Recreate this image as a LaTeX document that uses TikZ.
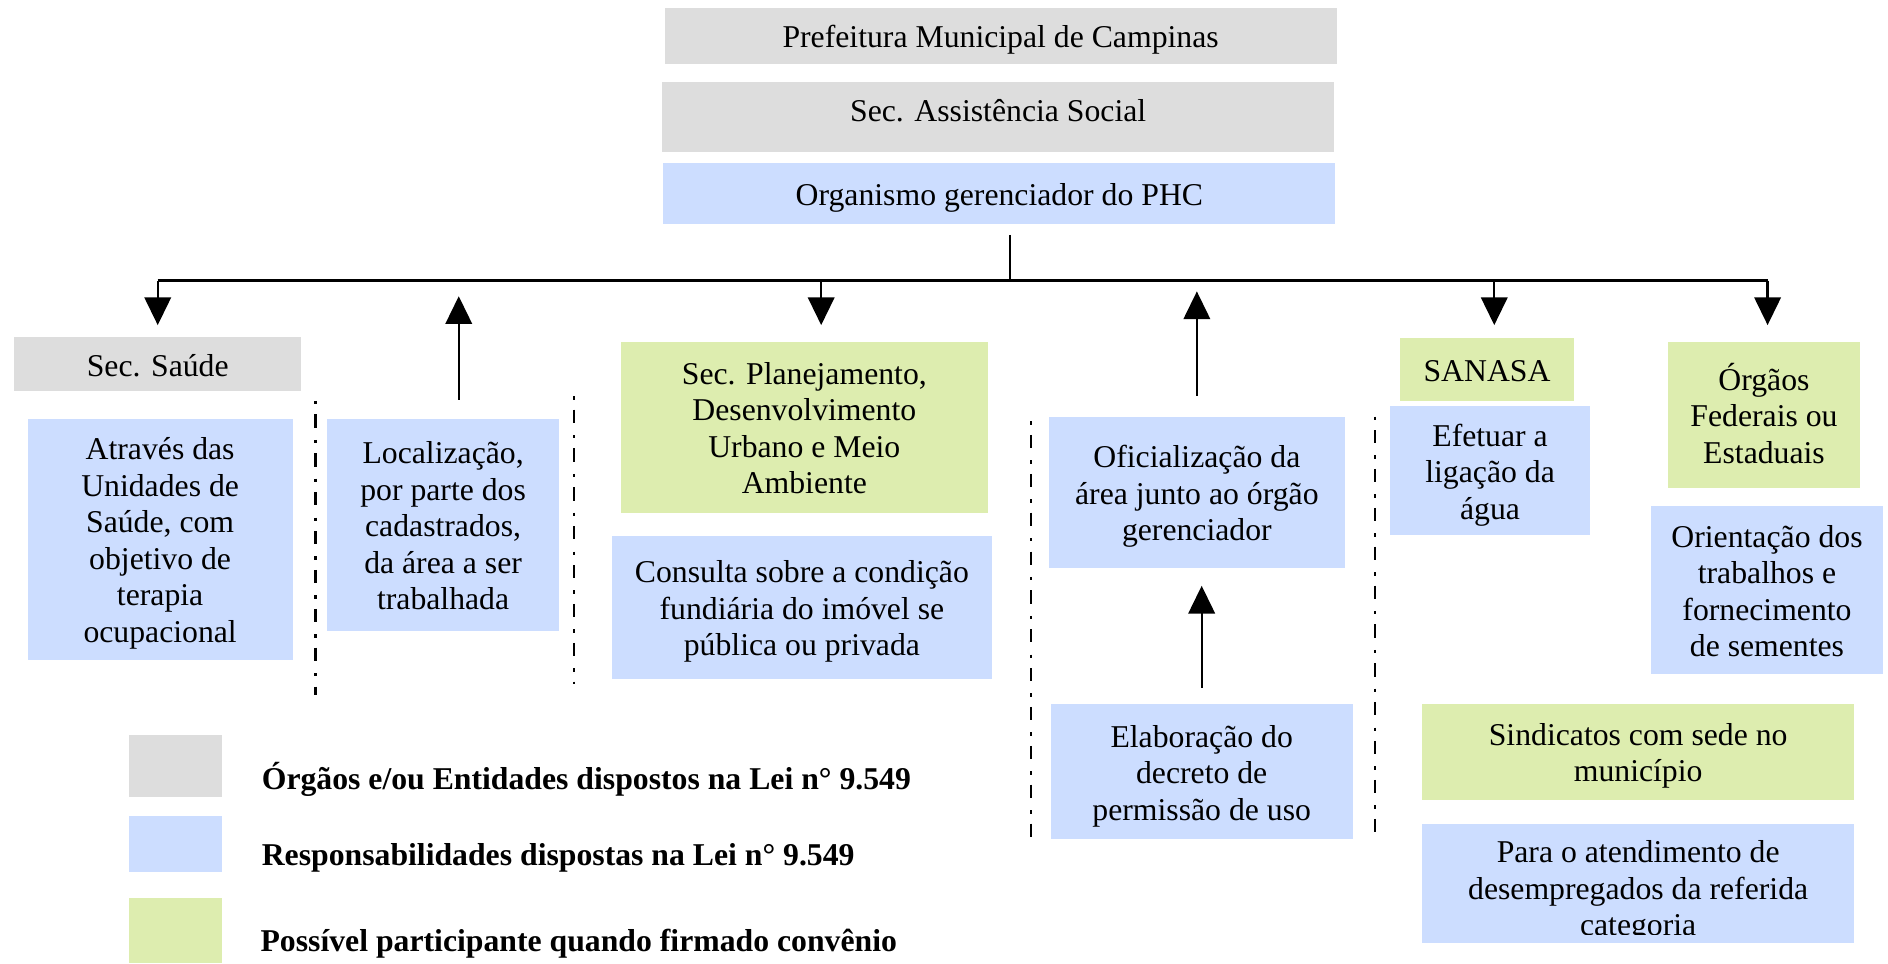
\documentclass[tikz,border=0pt]{standalone}
\usepackage{fontspec}
\setmainfont{Liberation Serif}
\usetikzlibrary{arrows.meta}
\newlength{\pu}\setlength{\pu}{0.016cm}
\definecolor{cgray}{HTML}{DDDDDD}
\definecolor{cblue}{HTML}{CCDDFF}
\definecolor{cgreen}{HTML}{DDEDAF}
\newcommand{\mytopst}{\rule{0pt}{12.4pt}}
\newcommand{\mybotst}{\rule[-3.5pt]{0pt}{3.5pt}}
\begin{document}
\begin{tikzpicture}[x=0.016cm, y=-0.016cm,
  txt/.style={inner sep=0pt, outer sep=0pt, align=center,
    font=\fontsize{12}{13.8}\selectfont,
    execute at end node=\mybotst},
  box/.style={txt, rectangle},
  gbox/.style={box, fill=cgray},
  bbox/.style={box, fill=cblue},
  vbox/.style={box, fill=cgreen},
  sz/.style 2 args={minimum width=#1\pu, minimum height=#2\pu},
  arr/.style={-{Triangle[length=10.5pt,width=10pt]}, line width=0.9pt},
  sep/.style={line width=0.8pt, dash pattern=on 1.3pt off 3.8pt on 5pt off 4.6pt},
  legtxt/.style={anchor=base west, inner sep=0pt, font=\bfseries\fontsize{12}{13.8}\selectfont}
]
\useasboundingbox (0,0) rectangle (1568,800);

% top column
\node[gbox, sz={558}{46}] (pref) at (831,30) {\mytopst Prefeitura Municipal de Campinas};
\node[gbox, sz={558}{58}, label={[txt, yshift=6\pu, name=sastxt]center:\mytopst Sec. Assistência Social}] (sas) at (829,97) {};
\node[bbox, sz={558}{51}] (org) at (830,160.5) {\mytopst Organismo gerenciador do PHC};

% column 1
\node[gbox, sz={238}{45}] (saude) at (131,302.5) {\mytopst Sec. Saúde};
\node[bbox, sz={220}{200}] (atraves) at (133,448) {\mytopst Através das\\Unidades de\\Saúde, com\\objetivo de\\terapia\\ocupacional};
% column 2
\node[bbox, sz={193}{176}] (loc) at (368,436) {\mytopst Localização,\\por parte dos\\cadastrados,\\da área a ser\\trabalhada};
% column 3
\node[vbox, sz={305}{142}] (plan) at (668,355) {\mytopst Sec. Planejamento,\\Desenvolvimento\\Urbano e Meio\\Ambiente};
\node[bbox, sz={315}{119}] (cons) at (666,504.5) {\mytopst Consulta sobre a condição\\fundiária do imóvel se\\pública ou privada};
% column 4
\node[bbox, sz={246}{125}] (ofic) at (994,409) {\mytopst Oficialização da\\área junto ao órgão\\gerenciador};
\node[bbox, sz={251}{112}] (elab) at (998,641) {\mytopst Elaboração do\\decreto de\\permissão de uso};
% column 5
\node[vbox, sz={145}{52}] (sanasa) at (1235,307) {\mytopst SANASA};
\node[bbox, sz={166}{107}] (efet) at (1237.5,391) {\mytopst Efetuar a\\ligação da\\água};
% column 6
\node[vbox, sz={159}{121}] (orgaos) at (1465,344.5) {\mytopst Órgãos\\Federais ou\\Estaduais};
\node[bbox, sz={193}{139}] (orient) at (1467.5,490) {\mytopst Orientação dos\\trabalhos e\\fornecimento\\de sementes};
% bottom right
\node[vbox, sz={359}{79}] (sind) at (1360.5,624.5) {\mytopst Sindicatos com sede no\\município};
\node[bbox, sz={359}{99}] (para) at (1360.5,734) {};
\begin{scope}
  \clip (1181,684.5) rectangle (1540,776);
  \node[txt] (paratxt) at (1360.5,737) {\mytopst Para o atendimento de\\desempregados da referida\\categoria};
\end{scope}

% connectors
\coordinate (bl) at (131,233);
\coordinate (br) at (1468,233);
\coordinate (bm) at (839,233);
\draw[line width=0.8pt, shorten <=9\pu] (org.south -| bm) -- (bm);
\draw[line width=0.9pt] (bl) -- (br);
\coordinate (b3) at (682,233);
\coordinate (b5) at (1241,233);
\coordinate (u2) at (381,233);
\coordinate (u4) at (994,233);
\draw[arr, shorten >=10\pu] (bl) -- (bl |- saude.north);
\draw[arr, shorten >=14\pu] (b3) -- (b3 |- plan.north);
\draw[arr, shorten >=11\pu] (b5) -- (b5 |- sanasa.north);
\draw[arr, shorten >=14\pu] (br) -- (br |- orgaos.north);
\draw[arr, shorten <=16\pu, shorten >=13\pu] (u2 |- loc.north) -- (u2);
\draw[arr, shorten <=18\pu, shorten >=9\pu] (u4 |- ofic.north) -- (u4);
\draw[arr, shorten <=14\pu, shorten >=15\pu] (elab.north) -- (elab.north |- ofic.south);

% separators
\coordinate (s1a) at (262,333); \coordinate (s1b) at (262,577);
\coordinate (s2a) at (477,329); \coordinate (s2b) at (477,568);
\coordinate (s3a) at (856,350); \coordinate (s3b) at (856,703);
\coordinate (s4a) at (1142,346); \coordinate (s4b) at (1142,700);
\draw[sep] (s1a) -- (s1b);
\draw[sep] (s2a) -- (s2b);
\draw[sep] (s3a) -- (s3b);
\draw[sep] (s4a) -- (s4b);

% legend
\node[box, fill=cgray, sz={77}{52}] (lg1) at (145.5,636) {};
\node[box, fill=cblue, sz={77}{46}] (lg2) at (145.5,701) {};
\node[box, fill=cgreen, sz={77}{54}] (lg3) at (145.5,773) {};
\node[legtxt] (lt1) at (217,655.5) {Órgãos e/ou Entidades dispostos na Lei n° 9.549};
\node[legtxt] (lt2) at (217,718.5) {Responsabilidades dispostas na Lei n° 9.549};
\node[legtxt] (lt3) at (216,790.5) {Possível participante quando firmado convênio};
\end{tikzpicture}
\end{document}
